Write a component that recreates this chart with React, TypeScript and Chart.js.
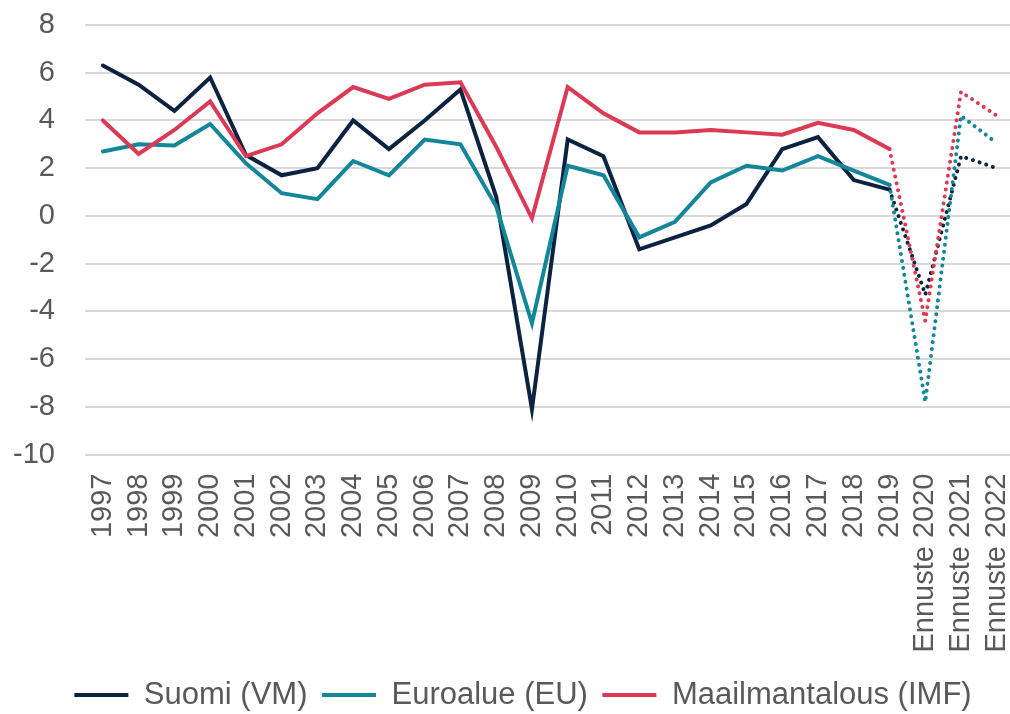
import React, { useEffect, useRef } from "react";
import { Chart, registerables } from "chart.js";

Chart.register(...registerables);

const categories = [
  "1997", "1998", "1999", "2000", "2001", "2002", "2003", "2004", "2005", "2006",
  "2007", "2008", "2009", "2010", "2011", "2012", "2013", "2014", "2015", "2016",
  "2017", "2018", "2019", "Ennuste 2020", "Ennuste 2021", "Ennuste 2022",
];

const suomi = [
  6.3, 5.5, 4.4, 5.8, 2.55, 1.7, 2.0, 4.0, 2.8, 4.0,
  5.3, 0.8, -8.1, 3.2, 2.5, -1.4, -0.9, -0.4, 0.5, 2.8,
  3.3, 1.5, 1.1, -3.3, 2.5, 2.0,
];

const euroalue = [
  2.7, 3.0, 2.95, 3.85, 2.2, 0.95, 0.7, 2.3, 1.7, 3.2,
  3.0, 0.4, -4.5, 2.1, 1.7, -0.9, -0.25, 1.4, 2.1, 1.9,
  2.5, 1.9, 1.3, -7.8, 4.2, 3.05,
];

const maailma = [
  4.0, 2.6, 3.6, 4.8, 2.5, 3.0, 4.3, 5.4, 4.9, 5.5,
  5.6, 2.9, -0.1, 5.4, 4.3, 3.5, 3.5, 3.6, 3.5, 3.4,
  3.9, 3.6, 2.8, -4.4, 5.2, 4.2,
];

const seriesNames = ["Suomi (VM)", "Euroalue (EU)", "Maailmantalous (IMF)"];
const seriesColors = ["#0B2341", "#13869A", "#DC3A54"];
const forecastStart = 22; // segment from 2019 onward is dotted

const yMin = -10;
const yMax = 8;
const yStep = 2;

const FONT = "'Liberation Sans', Arial, sans-serif";
const TEXT = "#595959";

const LEGEND_H = 49;
const LEGEND_LEFT = 36;

const legendTweak = {
  id: "legendTweak",
  beforeLayout(chart: any) {
    const lg = chart.legend;
    if (lg && !lg.__wrapped) {
      const orig = lg.fit;
      lg.fit = function () {
        orig.call(this);
        this.height = LEGEND_H;
      };
      lg.__wrapped = true;
    }
  },
  beforeDraw(chart: any) {
    const lg = chart.legend;
    if (lg) lg.left = LEGEND_LEFT;
  },
};

export default function App() {
  const ref = useRef<HTMLCanvasElement | null>(null);

  useEffect(() => {
    if (!ref.current) return;
    const all = [suomi, euroalue, maailma];
    const chart = new Chart(ref.current, {
      type: "line",
      plugins: [legendTweak],
      data: {
        datasets: all.map((vals, k) => ({
          label: seriesNames[k],
          data: vals.map((v, i) => ({ x: i, y: v })),
          borderColor: seriesColors[k],
          backgroundColor: seriesColors[k],
          borderWidth: 4,
          borderCapStyle: "round" as const,
          pointRadius: 0,
          pointHoverRadius: 0,
          tension: 0,
          order: 3 - k,
          segment: {
            borderDash: (ctx: any) =>
              ctx.p0DataIndex >= forecastStart ? [0.01, 7] : undefined,
          },
        })),
      },
      options: {
        animation: false,
        responsive: false,
        maintainAspectRatio: false,
        layout: { padding: { top: 25, left: 0, right: 0, bottom: 0 } },
        plugins: {
          tooltip: { enabled: false },
          legend: {
            position: "bottom",
            labels: {
              usePointStyle: true,
              pointStyle: "line",
              pointStyleWidth: 54,
              color: TEXT,
              font: { family: FONT, size: 31 },
              padding: 14.5,
              sort: (a: any, b: any) => a.datasetIndex - b.datasetIndex,
            },
          },
        },
        scales: {
          x: {
            type: "linear",
            min: -0.5,
            max: 25.37,
            grid: { display: false },
            border: { display: false },
            afterBuildTicks: (axis: any) => {
              axis.ticks = categories.map((_, i) => ({ value: i }));
            },
            afterFit: (axis: any) => {
              axis.paddingLeft = 0;
              axis.paddingRight = 0;
              axis.height = 714 - LEGEND_H - 454.5;
            },
            ticks: {
              autoSkip: false,
              minRotation: 90,
              maxRotation: 90,
              padding: 11,
              color: TEXT,
              font: { family: FONT, size: 29 },
              callback: (v: any) => categories[v as number] ?? "",
            },
          },
          y: {
            min: yMin,
            max: yMax,
            grid: { color: "#D9D9D9", lineWidth: 2, drawTicks: false },
            border: { display: false },
            afterFit: (axis: any) => {
              axis.width = 85;
              axis.paddingTop = 0;
              axis.paddingBottom = 0;
            },
            ticks: {
              stepSize: yStep,
              padding: 30,
              color: TEXT,
              font: { family: FONT, size: 29 },
            },
          },
        },
      },
    });
    return () => chart.destroy();
  }, []);

  return (
    <div style={{ position: "fixed", left: 0, top: 0, width: 1010, height: 714, background: "#fff" }}>
      <canvas ref={ref} width={1010} height={714} style={{ display: "block" }} />
    </div>
  );
}
